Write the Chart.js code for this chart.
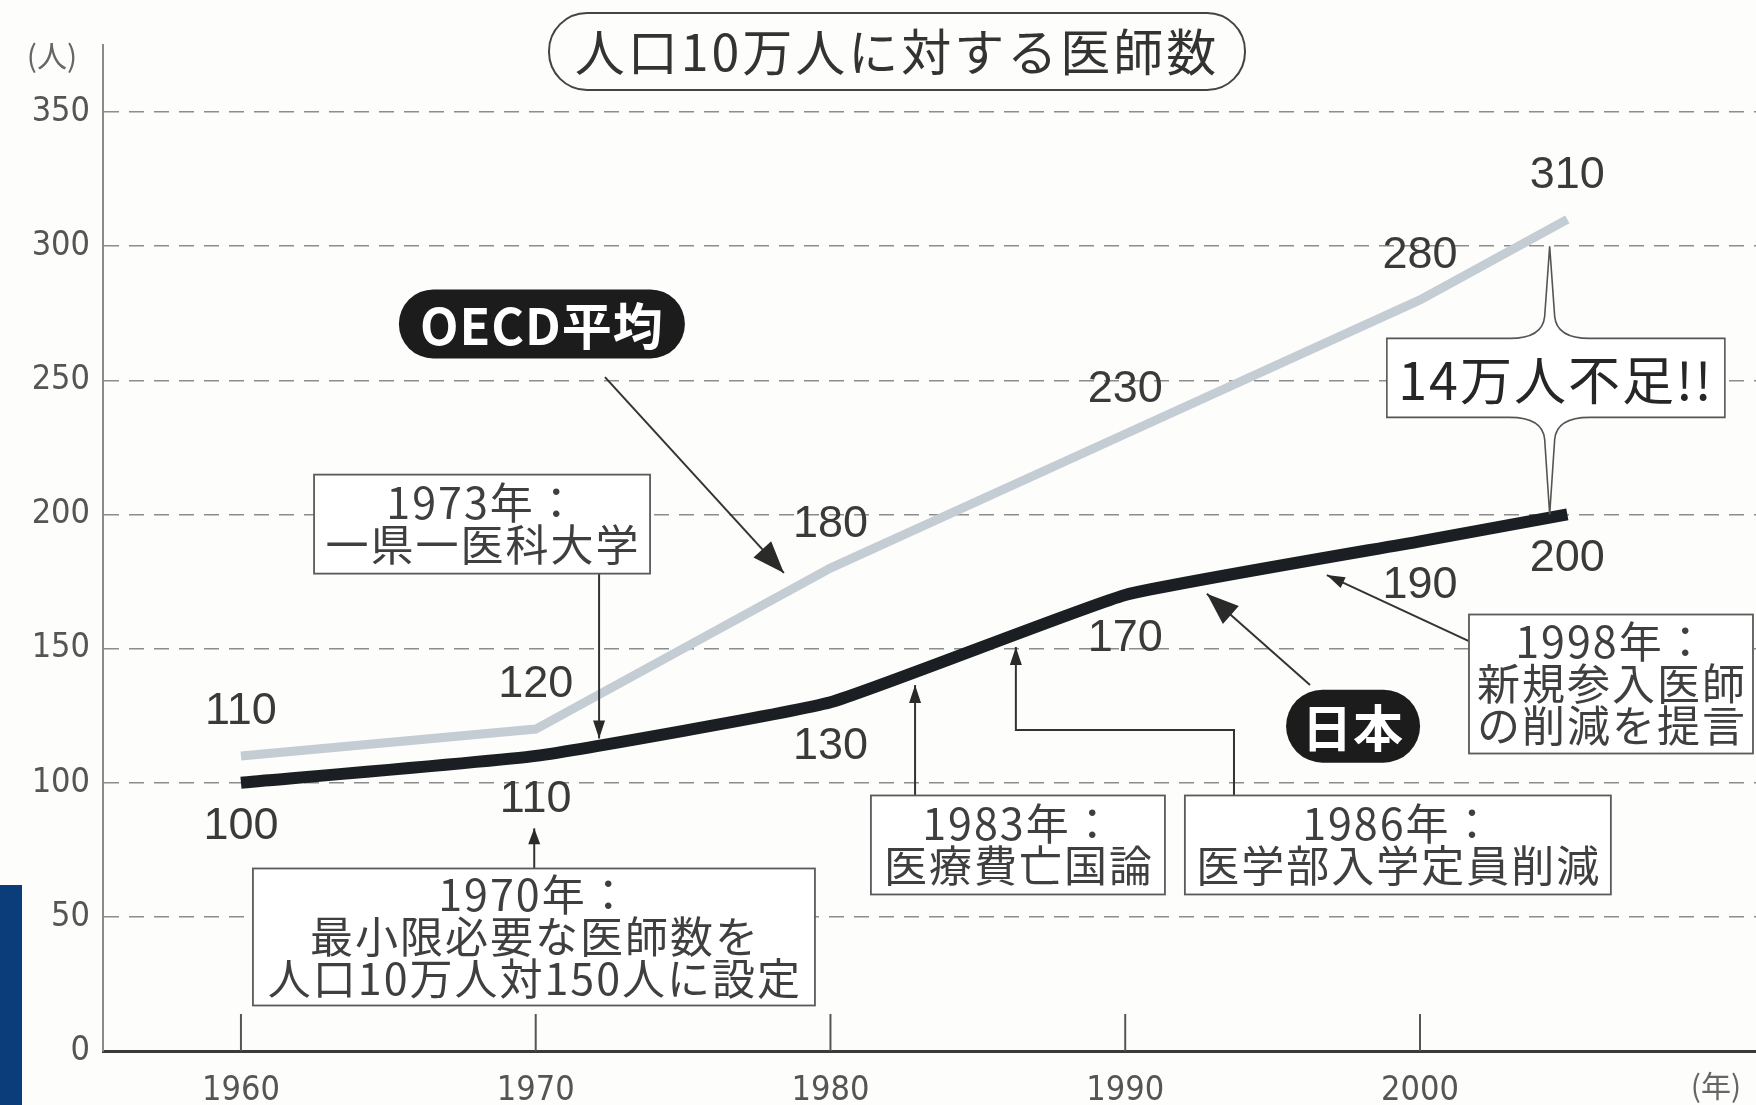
<!DOCTYPE html>
<html lang="ja">
<head>
<meta charset="utf-8">
<title>人口10万人に対する医師数</title>
<script src="https://cdn.jsdelivr.net/npm/chart.js@4.4.1/dist/chart.umd.min.js"></script>
<style>
  html, body { margin: 0; padding: 0; background: #fdfdfb; }
  canvas { display: block; }
</style>
</head>
<body>
<canvas id="chart" width="1756" height="1105"></canvas>
<script>
// data
const years = [1960, 1970, 1980, 1990, 2000, 2005];
const oecd = [110, 120, 180, 230, 280, 310];
const japan = [100, 110, 130, 170, 190, 200];
const yearTicks = [1960, 1970, 1980, 1990, 2000];
const valueTicks = [0, 50, 100, 150, 200, 250, 300, 350];

const JP = '"Noto Sans CJK JP", "Noto Sans", sans-serif';
const NUM = '"Liberation Sans", Arial, sans-serif';
const NARROW = '"Liberation Sans Narrow", "DejaVu Sans Condensed", sans-serif';

// annotations, placed in data units (year, value)
const notes = [
  { lines: ['1973年：', '一県一医科大学'], x: 1968.18, y: 196.4, w: 336, h: 99 },
  { lines: ['1970年：', '最小限必要な医師数を', '人口10万人対150人に設定'], x: 1969.94, y: 42.5, w: 562, h: 137 },
  { lines: ['1983年：', '医療費亡国論'], x: 1986.36, y: 76.8, w: 294, h: 99 },
  { lines: ['1986年：', '医学部入学定員削減'], x: 1999.25, y: 76.8, w: 426, h: 99 },
  { lines: ['1998年：', '新規参入医師', 'の削減を提言'], x: 2006.48, y: 136.8, w: 284, h: 139 },
];

const arrows = [
  { pts: [[1972.15, 178.2], [1972.15, 116.5]], head: 18, hw: 12 },
  { pts: [[1969.95, 68.2], [1969.95, 83]], head: 16, hw: 12 },
  { pts: [[1982.87, 95.4], [1982.87, 136.4]], head: 18, hw: 12 },
  { pts: [[1993.69, 95.4], [1993.69, 119.7], [1986.29, 119.7], [1986.29, 150.6]], head: 18, hw: 12 },
  { pts: [[2001.66, 152.8], [1996.84, 177.4]], head: 18, hw: 12 },
  { pts: [[1972.35, 251.2], [1978.42, 178.2]], head: 32, hw: 24 },
  { pts: [[1996.27, 136.4], [1992.77, 170.4]], head: 32, hw: 24 },
];

const tags = [
  { text: 'OECD平均', x: 1970.21, y: 271, w: 286, h: 69 },
  { text: '日本', x: 1997.73, y: 121.1, w: 134, h: 73 },
];

const callout = { text: '14万人不足!!', x: 2004.61, y: 250.9, w: 338, h: 79, spikeX: 2004.4, top: 300, bottom: 200 };

function drawArrow(ctx, pts, head, hw) {
  ctx.beginPath();
  ctx.moveTo(pts[0][0], pts[0][1]);
  for (let i = 1; i < pts.length; i++) ctx.lineTo(pts[i][0], pts[i][1]);
  ctx.stroke();
  const [x1, y1] = pts[pts.length - 2];
  const [x2, y2] = pts[pts.length - 1];
  const a = Math.atan2(y2 - y1, x2 - x1);
  const c = Math.cos(a), s = Math.sin(a);
  ctx.beginPath();
  ctx.moveTo(x2, y2);
  ctx.lineTo(x2 - head * c + hw / 2 * s, y2 - head * s - hw / 2 * c);
  ctx.lineTo(x2 - head * c - hw / 2 * s, y2 - head * s + hw / 2 * c);
  ctx.closePath();
  ctx.fill();
}

const decor = {
  id: 'decor',
  beforeDraw(chart) {
    const { ctx, width, height } = chart;
    ctx.save();
    ctx.fillStyle = '#fdfdfb';
    ctx.fillRect(0, 0, width, height);
    ctx.fillStyle = '#0b3d7a';
    ctx.fillRect(0, 885, 22, height - 885);
    ctx.restore();
  },
  afterDatasetsDraw(chart) {
    const { ctx, chartArea } = chart;
    const sx = chart.scales.x, sy = chart.scales.y;
    const P = (x, y) => [sx.getPixelForValue(x), sy.getPixelForValue(y)];
    ctx.save();

    // inside tick marks on the x axis
    ctx.strokeStyle = '#555';
    ctx.lineWidth = 2;
    yearTicks.forEach(v => {
      const x = sx.getPixelForValue(v);
      ctx.beginPath();
      ctx.moveTo(x, chartArea.bottom);
      ctx.lineTo(x, chartArea.bottom - 37);
      ctx.stroke();
    });

    // value labels
    ctx.fillStyle = '#3a3a3a';
    ctx.font = '45px ' + NUM;
    ctx.textAlign = 'center';
    ctx.textBaseline = 'middle';
    const offs = [-44, 44];
    [oecd, japan].forEach((vals, i) => {
      chart.getDatasetMeta(i).data.forEach((pt, j) => {
        ctx.fillText(String(vals[j]), pt.x, pt.y + offs[i]);
      });
    });

    // arrows
    ctx.strokeStyle = '#333';
    ctx.fillStyle = '#2a2a2a';
    ctx.lineWidth = 2;
    arrows.forEach(a => drawArrow(ctx, a.pts.map(p => P(p[0], p[1])), a.head, a.hw));

    // note boxes
    notes.forEach(n => {
      const [cx, cy] = P(n.x, n.y);
      ctx.fillStyle = '#ffffff';
      ctx.strokeStyle = '#5a5a5a';
      ctx.lineWidth = 1.8;
      ctx.fillRect(cx - n.w / 2, cy - n.h / 2, n.w, n.h);
      ctx.strokeRect(cx - n.w / 2, cy - n.h / 2, n.w, n.h);
      ctx.fillStyle = '#3f3f3f';
      ctx.font = '43px ' + JP;
      ctx.letterSpacing = '2px';
      const lh = 42;
      n.lines.forEach((t, k) => {
        ctx.fillText(t, cx + 1, cy + (k - (n.lines.length - 1) / 2) * lh);
      });
      ctx.letterSpacing = '0px';
    });

    // black tags
    tags.forEach(t => {
      const [cx, cy] = P(t.x, t.y);
      ctx.fillStyle = '#1c1c1c';
      ctx.beginPath();
      ctx.roundRect(cx - t.w / 2, cy - t.h / 2, t.w, t.h, t.h / 2);
      ctx.fill();
      ctx.fillStyle = '#ffffff';
      ctx.font = 'bold 50px ' + JP;
      ctx.letterSpacing = '1px';
      ctx.fillText(t.text, cx, cy + 2);
      ctx.letterSpacing = '0px';
    });

    // gap callout with spikes
    {
      const c = callout;
      const [cx, cy] = P(c.x, c.y);
      const spx = sx.getPixelForValue(c.spikeX);
      const tipT = sy.getPixelForValue(c.top), tipB = sy.getPixelForValue(c.bottom);
      const l = cx - c.w / 2, r = cx + c.w / 2, t = cy - c.h / 2, b = cy + c.h / 2;
      ctx.beginPath();
      ctx.moveTo(l, t);
      ctx.lineTo(spx - 40, t);
      ctx.quadraticCurveTo(spx - 7, t, spx - 5, t - 22);
      ctx.lineTo(spx, tipT);
      ctx.lineTo(spx + 5, t - 22);
      ctx.quadraticCurveTo(spx + 7, t, spx + 40, t);
      ctx.lineTo(r, t);
      ctx.lineTo(r, b);
      ctx.lineTo(spx + 40, b);
      ctx.quadraticCurveTo(spx + 7, b, spx + 5, b + 22);
      ctx.lineTo(spx, tipB);
      ctx.lineTo(spx - 5, b + 22);
      ctx.quadraticCurveTo(spx - 7, b, spx - 40, b);
      ctx.lineTo(l, b);
      ctx.closePath();
      ctx.fillStyle = '#ffffff';
      ctx.fill();
      ctx.strokeStyle = '#555';
      ctx.lineWidth = 1.6;
      ctx.stroke();
      ctx.fillStyle = '#262626';
      ctx.font = '52px ' + JP;
      ctx.letterSpacing = '2px';
      ctx.fillText(c.text, cx, cy + 2);
      ctx.letterSpacing = '0px';
    }

    // title pill
    ctx.strokeStyle = '#444';
    ctx.lineWidth = 2;
    ctx.beginPath();
    ctx.roundRect(549, 13, 696, 77, 38);
    ctx.stroke();
    ctx.fillStyle = '#333';
    ctx.font = '50px ' + JP;
    ctx.letterSpacing = '3px';
    ctx.fillText('人口10万人に対する医師数', 897, 52);
    ctx.letterSpacing = '0px';

    // unit labels
    ctx.fillStyle = '#666';
    ctx.font = '30px ' + JP;
    ctx.fillText('(人)', 52, 56);
    ctx.fillText('(年)', 1716, 1086);

    ctx.restore();
  }
};

new Chart(document.getElementById('chart'), {
  type: 'line',
  data: {
    datasets: [
      {
        label: 'OECD平均',
        data: years.map((x, i) => ({ x, y: oecd[i] })),
        borderColor: '#c4ccd4',
        borderWidth: 9,
        pointRadius: 0,
        tension: 0,
      },
      {
        label: '日本',
        data: years.map((x, i) => ({ x, y: japan[i] })),
        borderColor: '#1b1f24',
        borderWidth: 12,
        pointRadius: 0,
        tension: 0.12,
      },
    ],
  },
  options: {
    responsive: false,
    animation: false,
    devicePixelRatio: 1,
    layout: { padding: { top: 45, left: 0, right: 0, bottom: 0 } },
    plugins: {
      legend: { display: false },
      tooltip: { enabled: false },
      title: { display: false },
    },
    scales: {
      x: {
        type: 'linear',
        min: 1955.32,
        max: 2011.4,
        afterBuildTicks: (s) => { s.ticks = yearTicks.map((v) => ({ value: v })); },
        afterFit: (s) => { s.height = 54; },
        grid: { display: false },
        border: { display: true, color: '#3a3a3a', width: 3 },
        ticks: {
          font: { family: NARROW, size: 34 },
          color: '#555',
          padding: 12,
          callback: (v) => String(v),
        },
      },
      y: {
        min: 0,
        max: 375,
        afterBuildTicks: (s) => { s.ticks = valueTicks.map((v) => ({ value: v })); },
        afterFit: (s) => { s.width = 103; },
        grid: {
          drawTicks: false,
          lineWidth: 1.6,
          color: (c) => (c.tick && c.tick.value === 0 ? 'rgba(0,0,0,0)' : '#8c8c8c'),
        },
        border: { display: true, color: '#8a8a8a', width: 2, dash: [15, 10] },
        ticks: {
          font: { family: NARROW, size: 34 },
          color: '#555',
          padding: 13,
        },
      },
    },
  },
  plugins: [decor],
});
</script>
</body>
</html>
